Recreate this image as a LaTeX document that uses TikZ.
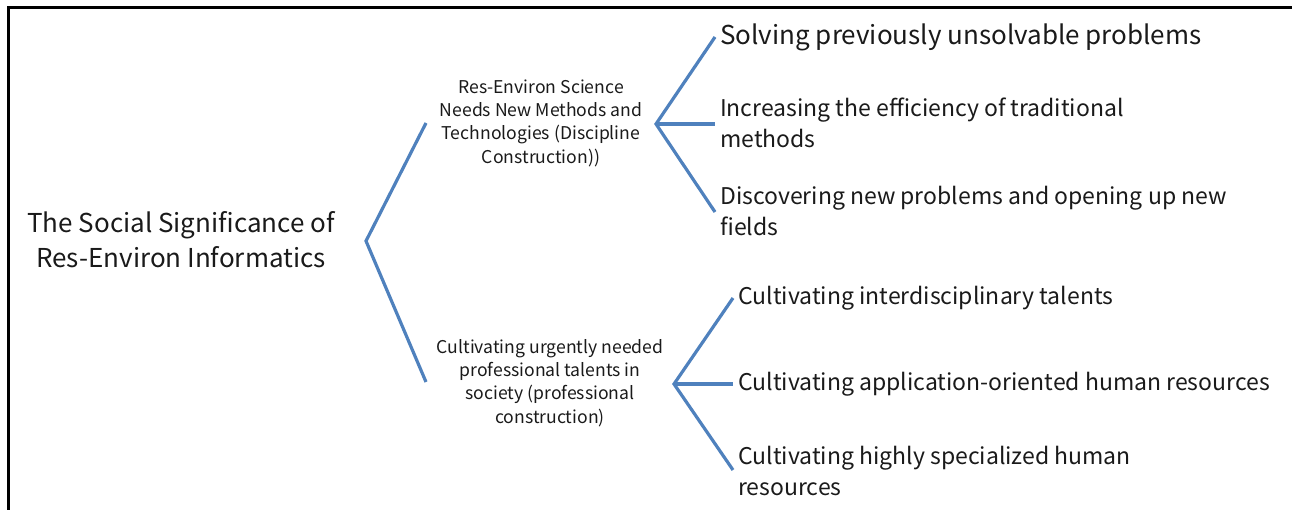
\documentclass[tikz,border=0pt]{standalone}
\usepackage{fontspec}
\setmainfont{Noto Sans CJK SC}
\definecolor{brblue}{HTML}{4F81BD}
\definecolor{txt}{HTML}{1A1A1A}
\begin{document}
\begin{tikzpicture}[x=1pt,y=-1pt,
  branch/.style={draw=brblue, line width=3.2pt, line join=miter},
  big/.style={font=\fontsize{23}{31}\selectfont, text=txt, inner sep=0pt},
  bigger/.style={font=\fontsize{26}{35}\selectfont, text=txt, inner sep=0pt},
  small/.style={font=\fontsize{17.6}{23.3}\selectfont, text=txt, align=center, inner sep=0pt},
  leaf/.style={big, anchor=west, align=left}]
\useasboundingbox (0,0) rectangle (1292,510);
% open frame: top and left edges only
\draw[line width=3pt] (8.8,510) -- (8.8,7.5) -- (1292,7.5);

% root
\node[bigger, align=center] (root) at (181,240) {The Social Significance of\\Res-Environ Informatics};
\coordinate (rv) at (366,241);
\coordinate (ra) at (426,123);
\coordinate (rb) at (426,382);
\draw[branch] (ra) -- (rv) -- (rb);

% first branch
\node[small] (m1) at (541,123) {Res-Environ Science\\Needs New Methods and\\Technologies (Discipline\\Construction))};
\coordinate (av) at (656,124);
\coordinate (a1) at (715,37);
\coordinate (a2) at (715,124);
\coordinate (a3) at (715,212);
\draw[branch] (a1) -- (av) -- (a3);
\draw[branch] (av) -- (a2);
\node[bigger, anchor=west] (l1) at (720,37) {Solving previously unsolvable problems};
\node[leaf] (l2) at (720,123) {Increasing the efficiency of traditional\\methods};
\node[leaf] (l3) at (720,211) {Discovering new problems and opening up new\\fields};

% second branch
\node[small] (m2) at (550,383) {Cultivating urgently needed\\professional talents in\\society (professional\\construction)};
\coordinate (bv) at (674,384);
\coordinate (b1) at (733,298);
\coordinate (b2) at (733,384);
\coordinate (b3) at (733,470);
\draw[branch] (b1) -- (bv) -- (b3);
\draw[branch] (bv) -- (b2);
\node[leaf] (k1) at (738,298) {Cultivating interdisciplinary talents};
\node[leaf] (k2) at (738,384) {Cultivating application-oriented human resources};
\node[leaf] (k3) at (738,471) {Cultivating highly specialized human\\resources};
\end{tikzpicture}
\end{document}
